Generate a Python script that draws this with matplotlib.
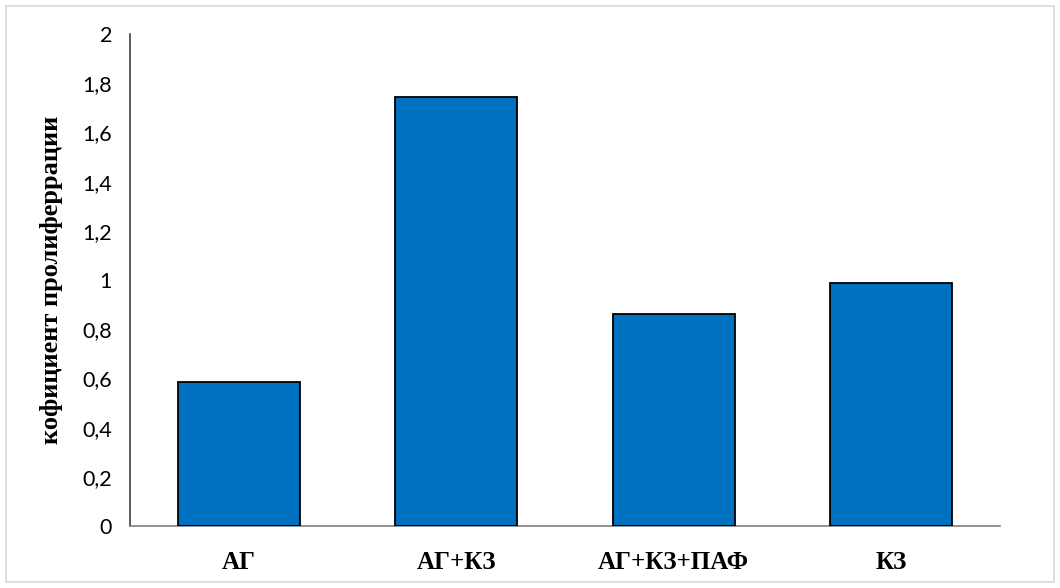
import matplotlib
matplotlib.use('Agg')
import matplotlib.pyplot as plt
from matplotlib.patches import Rectangle
from matplotlib.ticker import FuncFormatter

groups = ["АГ", "АГ+КЗ", "АГ+КЗ+ПАФ", "КЗ"]
values = [0.585, 1.745, 0.86, 0.99]
yticks = [0, 0.2, 0.4, 0.6, 0.8, 1.0, 1.2, 1.4, 1.6, 1.8, 2.0]

fig = plt.figure(figsize=(10.6, 5.88), dpi=100)
ax = fig.add_axes([0.1226, 0.1054, 0.8208, 0.8366])

x = range(len(groups))
ax.bar(x, values, width=0.56, color="#0070C0", edgecolor="black", linewidth=1.3, zorder=3)

ax.set_xlim(-0.5, len(groups) - 0.5)
ax.set_ylim(0, 2)
ax.set_yticks(yticks)
ax.yaxis.set_major_formatter(FuncFormatter(lambda v, p: ("%g" % round(v, 1)).replace(".", ",")))
ax.tick_params(axis="y", length=0, pad=13, labelsize=15.5)
ax.tick_params(axis="x", length=0, pad=18)
for lbl in ax.get_yticklabels():
    lbl.set_fontfamily("Lato")

ax.set_xticks(list(x))
ax.set_xticklabels(groups, fontfamily="Liberation Serif", fontweight="bold", fontsize=18)
ax.set_ylabel("кофициент пролиферрации", fontfamily="Liberation Serif",
              fontweight="bold", fontsize=19, labelpad=14)

for side in ("top", "right"):
    ax.spines[side].set_visible(False)
ax.spines["left"].set_color("#404040")
ax.spines["left"].set_linewidth(1.2)
ax.spines["bottom"].set_color("#808080")
ax.spines["bottom"].set_linewidth(1.2)

# light frame round the whole chart area
fig.patches.append(Rectangle((6 / 1060, 6 / 588), 1 - 12 / 1060, 1 - 12 / 588,
                             transform=fig.transFigure, fill=False,
                             edgecolor="#d9d9d9", linewidth=1.2))

plt.savefig("out.png", dpi=100)
plt.close()
